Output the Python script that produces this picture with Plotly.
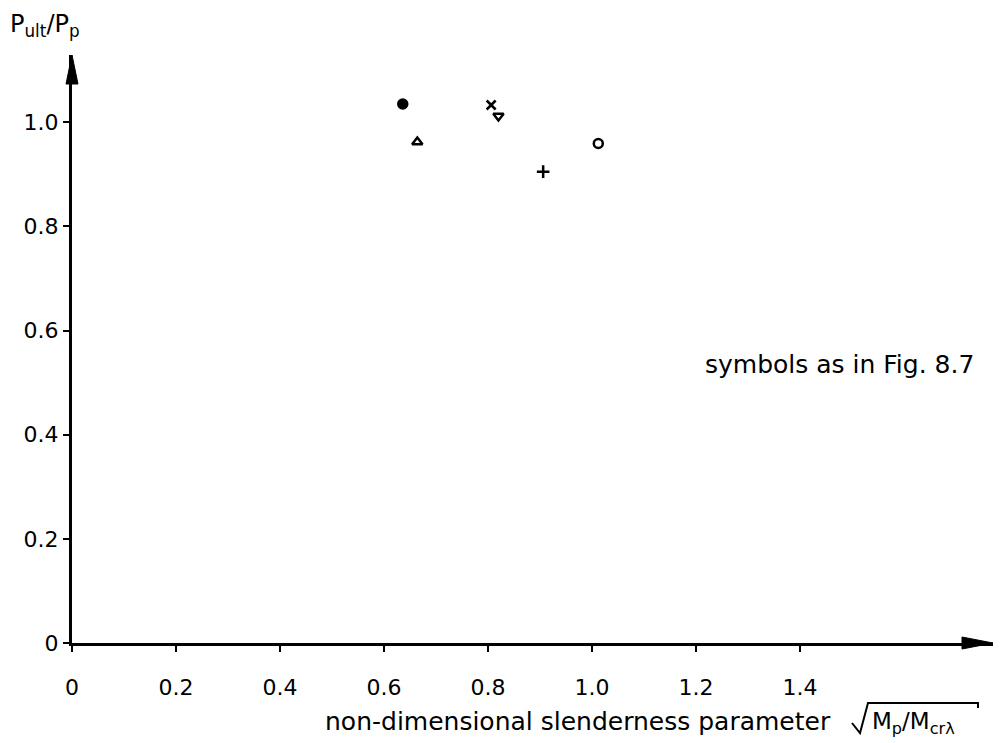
import plotly.graph_objects as go

# Test results: ultimate load ratio vs. non-dimensional slenderness
symbols = ["circle", "triangle-up-open", "x-thin", "triangle-down-open", "cross-thin", "circle-open"]
slenderness = [0.636, 0.664, 0.806, 0.820, 0.906, 1.012]
load_ratio = [1.035, 0.962, 1.033, 1.012, 0.905, 0.959]

x_ticks = [0, 0.2, 0.4, 0.6, 0.8, 1.0, 1.2, 1.4]
x_tick_text = ["0", "0.2", "0.4", "0.6", "0.8", "1.0", "1.2", "1.4"]
y_ticks = [0, 0.2, 0.4, 0.6, 0.8, 1.0]
y_tick_text = ["0", "0.2", "0.4", "0.6", "0.8", "1.0"]

X_MAX = 1.771
Y_MAX = 1.129
FONT = "DejaVu Sans, sans-serif"
W, H = 1002, 743
ML, MR, MT, MB = 72, 9, 55, 100
PW, PH = W - ML - MR, H - MT - MB


def px(x):
    """Horizontal pixel position -> paper coordinate."""
    return (x - ML) / PW


def py(y):
    """Vertical pixel position -> paper coordinate."""
    return (H - MB - y) / PH


fig = go.Figure()

for sym, xv, yv in zip(symbols, slenderness, load_ratio):
    fig.add_trace(go.Scatter(
        x=[xv], y=[yv], mode="markers",
        marker=dict(symbol=sym, size=9,
                    color="black", line=dict(color="black", width=2.5)),
        showlegend=False, hoverinfo="skip",
    ))

axis_common = dict(
    showgrid=False, zeroline=False, showline=True, linecolor="black", linewidth=3,
    ticks="outside", tickcolor="black", tickwidth=2, ticklen=6,
    tickfont=dict(family=FONT, size=22, color="black"),
)

fig.update_xaxes(range=[0, X_MAX], tickvals=x_ticks, ticktext=x_tick_text,
                 ticklabelstandoff=17, **axis_common)
fig.update_yaxes(range=[0, Y_MAX], tickvals=y_ticks, ticktext=y_tick_text,
                 ticklabelstandoff=0, **axis_common)

# Arrowheads at the ends of both axes
fig.add_shape(type="path", xref="paper", yref="paper",
              path=f"M {px(962)} {py(637)} L 1 0 L {px(962)} {py(649)} Z",
              fillcolor="black", line=dict(color="black", width=1))
fig.add_shape(type="path", xref="paper", yref="paper",
              path=f"M {px(66)} {py(84)} L 0 1 L {px(78)} {py(84)} Z",
              fillcolor="black", line=dict(color="black", width=1))

# Y-axis title
fig.add_annotation(xref="paper", yref="paper", x=px(8), y=py(26), xanchor="left", yanchor="middle",
                   text="P<sub>ult</sub>/P<sub>p</sub>", showarrow=False,
                   font=dict(family=FONT, size=24, color="black"))

# Note on symbols
fig.add_annotation(xref="paper", yref="paper", x=px(976), y=py(364), xanchor="right", yanchor="middle",
                   text="symbols as in Fig. 8.7", showarrow=False,
                   font=dict(family=FONT, size=25, color="black"))

# X-axis title with a square-root radical
fig.add_annotation(xref="paper", yref="paper", x=px(833), y=py(721), xanchor="right", yanchor="middle",
                   text="non-dimensional slenderness parameter", showarrow=False,
                   font=dict(family=FONT, size=25, color="black"))
fig.add_annotation(xref="paper", yref="paper", x=px(870), y=py(723), xanchor="left", yanchor="middle",
                   text="M<sub>p</sub>/M<sub>crλ</sub>", showarrow=False,
                   font=dict(family=FONT, size=23, color="black"))
fig.add_shape(type="path", xref="paper", yref="paper",
              path=(f"M {px(852)} {py(723)} L {px(860)} {py(733)} L {px(868)} {py(703)} "
                    f"L {px(978)} {py(703)} L {px(978)} {py(708)}"),
              line=dict(color="black", width=2))

fig.update_layout(
    width=W, height=H,
    margin=dict(l=ML, r=MR, t=MT, b=MB),
    plot_bgcolor="white", paper_bgcolor="white",
)

fig.write_html("out.html")
